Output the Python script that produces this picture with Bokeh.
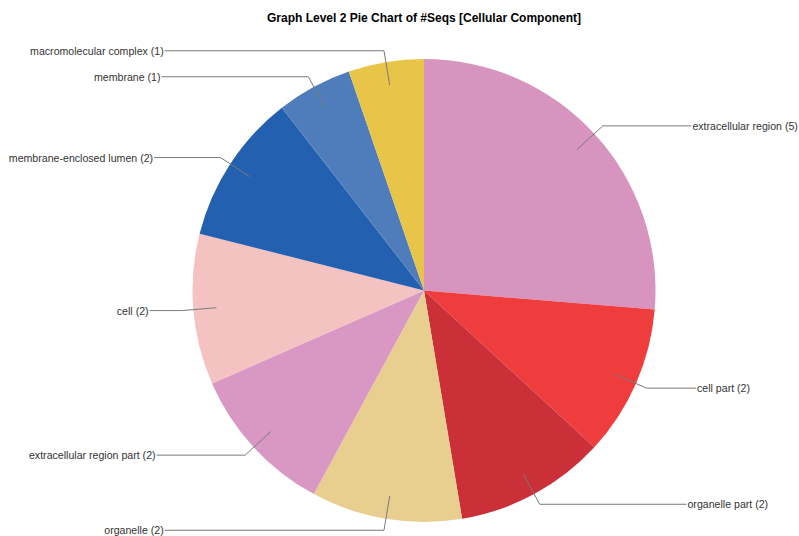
import math
from bokeh.plotting import figure
from bokeh.models import Range1d, ColumnDataSource
from bokeh.core.properties import value
from bokeh.embed import file_html
from bokeh.resources import INLINE

categories = ["extracellular region", "cell part", "organelle part", "organelle",
              "extracellular region part", "cell", "membrane-enclosed lumen",
              "membrane", "macromolecular complex"]
counts = [5, 2, 2, 2, 2, 2, 2, 1, 1]
colors = ["#D694BF", "#EF3D3D", "#CB3038", "#E9CF8F", "#D998C3",
          "#F5C2C2", "#2460B0", "#4F7DBB", "#E8C448"]
title_text = "Graph Level 2 Pie Chart of #Seqs [Cellular Component]"

W, H = 799, 536
p = figure(width=W, height=H, output_backend="svg", toolbar_location=None,
           x_range=Range1d(0, W), y_range=Range1d(0, H), min_border=0)
p.axis.visible = False
p.grid.visible = False
p.outline_line_color = None
p.background_fill_color = "white"
p.border_fill_color = "white"

cx, cy, r = 423.5, H - 290, 231.5
total = sum(counts)
cum = 0.0
starts, ends, mids = [], [], []
for c in counts:
    a0 = cum / total * 2 * math.pi
    cum += c
    a1 = cum / total * 2 * math.pi
    starts.append(math.pi / 2 - a1)
    ends.append(math.pi / 2 - a0)
    mids.append((a0 + a1) / 2)

src = ColumnDataSource(dict(start=starts, end=ends, color=colors))
p.wedge(x=cx, y=cy, radius=r, start_angle="start", end_angle="end",
        direction="anticlock", fill_color="color", line_color=None, source=src)

# leader lines and labels
ea, eb = 274.5, 730.0
lx, ly, tx, ty, ta, texts = [], [], [], [], [], []
for name, c, m in zip(categories, counts, mids):
    sx, sy = math.sin(m), math.cos(m)
    x0, y0 = cx + 0.9 * r * sx, cy + 0.9 * r * sy
    x1, y1 = cx + 1.05 * r * sx, cy + 1.05 * r * sy
    dy = y1 - cy
    off = ea * math.sqrt(max(0.0, 1 - (dy / eb) ** 2))
    if sx >= 0:
        x2 = cx + off
        tx.append(x2 + 1)
        ta.append("left")
    else:
        x2 = cx - off
        tx.append(x2 - 1)
        ta.append("right")
    lx.append([x0, x1, x2])
    ly.append([y0, y1, y1])
    ty.append(y1)
    texts.append(f"{name} ({c})")

p.multi_line(xs=lx, ys=ly, line_color="#7a7a7a", line_width=1)
p.text(x=tx, y=ty, text=texts, text_align=ta, text_baseline="middle",
       text_font=value("Liberation Sans"), text_font_size="10.6px", text_color="#333333")

p.text(x=[cx], y=[H - 17], text=[title_text], text_align="center", text_baseline="middle",
       text_font=value("Liberation Sans"), text_font_style="bold",
       text_font_size="12px", text_color="black")

open("out.html", "w").write(file_html(p, INLINE))
